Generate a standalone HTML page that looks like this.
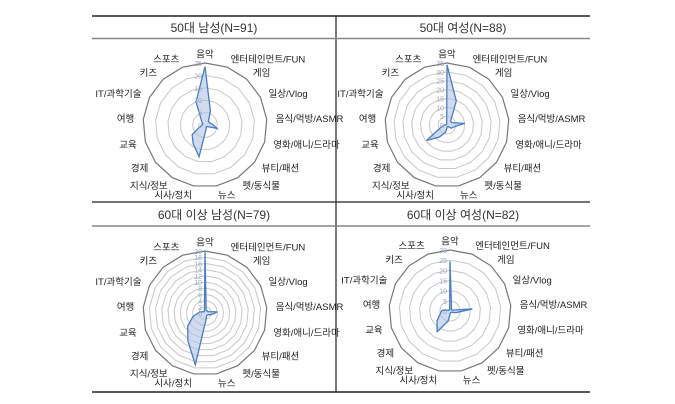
<!DOCTYPE html>
<html><head><meta charset="utf-8">
<style>
body{margin:0;background:#fff;width:675px;height:404px;overflow:hidden;font-family:"Liberation Sans","Noto Sans CJK KR",sans-serif;}
svg{display:block}
</style></head><body>
<svg id="c" width="675" height="404">
<line x1="92" y1="16" x2="590" y2="16" stroke="#222" stroke-width="1.5"/>
<line x1="336" y1="16" x2="336" y2="392" stroke="#222" stroke-width="1.2"/>
<line x1="92" y1="38.5" x2="590" y2="38.5" stroke="#888" stroke-width="1.5"/>
<line x1="92" y1="202" x2="590" y2="202" stroke="#222" stroke-width="1.2"/>
<line x1="92" y1="226" x2="590" y2="226" stroke="#888" stroke-width="1.5"/>
<line x1="92" y1="392" x2="590" y2="392" stroke="#222" stroke-width="1.5"/>
<text x="214" y="32" font-size="12" text-anchor="middle" fill="#333">50대 남성(N=91)</text>
<text x="463" y="32" font-size="12" text-anchor="middle" fill="#333">50대 여성(N=88)</text>
<text x="214" y="219" font-size="12" text-anchor="middle" fill="#333">60대 이상 남성(N=79)</text>
<text x="463" y="219" font-size="12" text-anchor="middle" fill="#333">60대 이상 여성(N=82)</text>
</svg>
<script>
const categories=["음악","엔터테인먼트/FUN","게임","일상/Vlog","음식/먹방/ASMR","영화/애니/드라마","뷰티/패션","펫/동식물","뉴스","시사/정치","지식/정보","경제","교육","여행","IT/과학기술","키즈","스포츠"];
const male50=[23.5,6,2,2,3,5,1,1,2,13,9,6.5,2,1,1,2,10];
const female50=[34,14.5,3,3,10,4,3,1,1,4,8,14.5,3,1,0.5,0.5,0.5];
const male60=[20,1,1,1,4,2,1,1,2,17,10.5,7,4,2,1,0.5,0.5];
const female60=[24.5,2,1,1,11,3,1,1,1,5,12,8,5,4,1,0.5,0.5];
const ticks50m=[0,5,10,15,20,25];
const ticks50f=[0,5,10,15,20,25,30,35];
const ticks60m=[0,2,4,6,8,10,12,14,16,18,20];
const ticks60f=[0,5,10,15,20,25,30];
const svg=document.getElementById('c');
const NS='http://www.w3.org/2000/svg';
function mk(t,a){const e=document.createElementNS(NS,t);for(const k in a)e.setAttribute(k,a[k]);svg.appendChild(e);return e;}
function radar(cx,cy,R,vals,ticks,name){
  const n=categories.length,max=ticks[ticks.length-1];
  const ang=i=>i*2*Math.PI/n;
  const pt=(i,r)=>[cx+r*Math.sin(ang(i)),cy-r*Math.cos(ang(i))];
  ticks.forEach((t,k)=>{ if(t===0)return;
    const r=t/max*R;
    const p=mk('polygon',{points:categories.map((c,i)=>pt(i,r).join(',')).join(' '),fill:'none',stroke:k===ticks.length-1?'#777':'#c8c8c8','stroke-width':k===ticks.length-1?1.2:1});
    
    
  });
  const poly=mk('polygon',{points:vals.map((v,i)=>pt(i,v/max*R).join(',')).join(' '),fill:'rgba(170,190,225,0.55)',stroke:'#4a7cc4','stroke-width':1.3,'stroke-linejoin':'miter'});
  
  
  ticks.forEach(t=>{
    const tx=mk('text',{x:cx-3,y:cy-t/max*R+3,'font-size':7,'text-anchor':'end',fill:'#9aa6bb'});
    tx.textContent=t;
    
    
  });
  categories.forEach((c,i)=>{
    const [x,y]=pt(i,R+9);const s=Math.sin(ang(i));
    const anchor=s>0.15?'start':(s<-0.15?'end':'middle');
    const tx=mk('text',{x:x,y:y+3.5,'font-size':9.5,'text-anchor':anchor,fill:'#222'});
    tx.textContent=c;
    
    
  });
}
radar(205,125,62,male50,ticks50m,'male-50s');
radar(447,125,62,female50,ticks50f,'female-50s');
radar(205,313,62,male60,ticks60m,'male-60s');
radar(450,311,61,female60,ticks60f,'female-60s');
</script>
</body></html>
